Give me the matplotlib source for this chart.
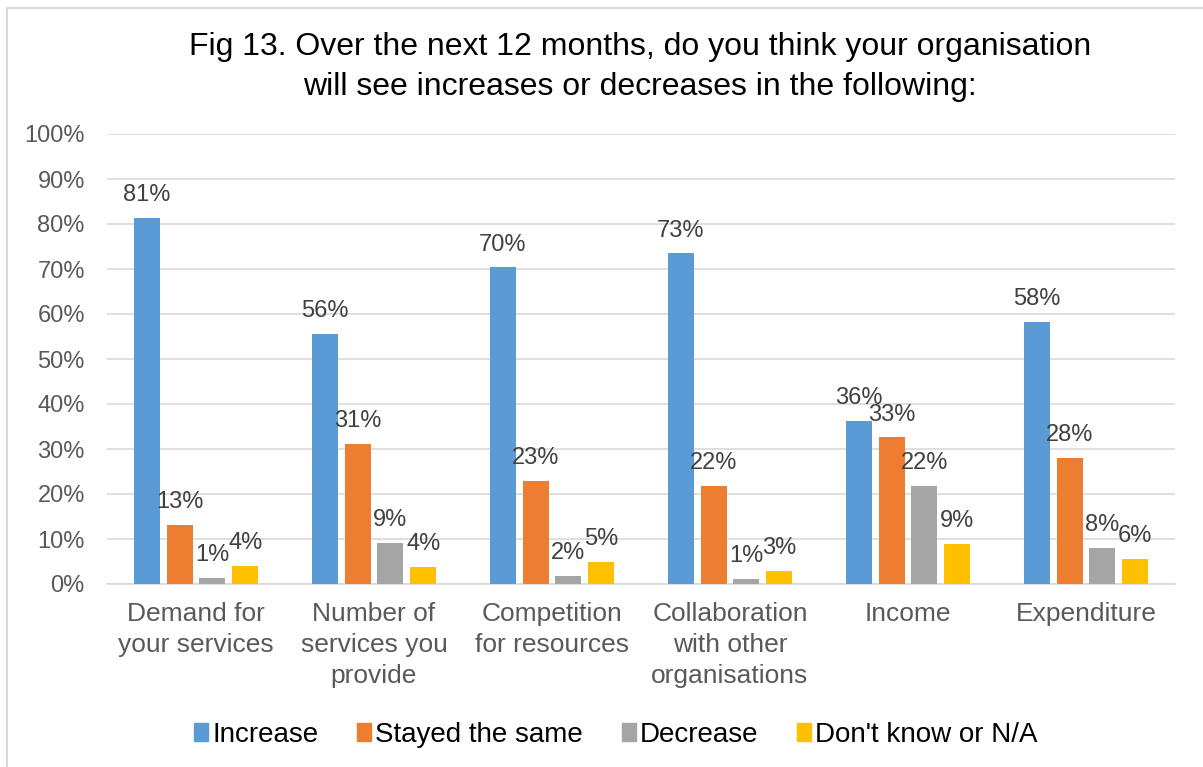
import matplotlib.pyplot as plt
import numpy as np
from matplotlib.patches import Rectangle, Patch

plt.rcParams['font.family'] = ['Liberation Sans', 'DejaVu Sans']

categories = ["Demand for\nyour services", "Number of\nservices you\nprovide",
              "Competition\nfor resources", "Collaboration\nwith other\norganisations",
              "Income", "Expenditure"]
series = ["Increase", "Stayed the same", "Decrease", "Don't know or N/A"]
increase = [81.3, 55.6, 70.4, 73.5, 36.3, 58.3]
stayed = [13.1, 31.2, 22.9, 21.8, 32.6, 28.1]
decrease = [1.3, 9.2, 1.8, 1.1, 21.8, 8.0]
dont_know = [4.1, 3.8, 4.9, 2.9, 8.9, 5.6]
labels = [
    ["81%", "56%", "70%", "73%", "36%", "58%"],
    ["13%", "31%", "23%", "22%", "33%", "28%"],
    ["1%", "9%", "2%", "1%", "22%", "8%"],
    ["4%", "4%", "5%", "3%", "9%", "6%"],
]
colors = ["#5B9BD5", "#ED7D31", "#A5A5A5", "#FFC000"]

fig = plt.figure(figsize=(12.03, 7.67), dpi=100)
ax = fig.add_axes([107 / 1203, 1 - 584 / 767, (1175 - 107) / 1203, (584 - 134) / 767])

# outer chart border
fig.patches.append(Rectangle((7 / 1203, -0.05), 1.1, 1 - 8 / 767 + 0.05,
                             transform=fig.transFigure, fill=False,
                             edgecolor="#D9D9D9", linewidth=1.5))

x = np.arange(len(categories))
step = 0.185
width = 0.146
for i, (vals, col) in enumerate(zip([increase, stayed, decrease, dont_know], colors)):
    pos = x + (i - 1.5) * step
    ax.bar(pos, vals, width=width, color=col, zorder=3)
    for p, v, lab in zip(pos, vals, labels[i]):
        ax.annotate(lab, (p, v), xytext=(0, 12), textcoords="offset points",
                    ha="center", va="baseline", fontsize=17, color="#404040", zorder=4)

ax.set_xlim(-0.5, len(categories) - 0.5)
ax.set_ylim(0, 100)
ax.set_yticks(np.arange(0, 101, 10))
ax.set_yticklabels([f"{v}%" for v in range(0, 101, 10)])
ax.set_xticks(x)
ax.set_xticklabels(categories, linespacing=1.36)
ax.tick_params(axis="both", length=0, labelcolor="#595959")
ax.tick_params(axis="y", pad=16, labelsize=17)
ax.tick_params(axis="x", pad=13, labelsize=19)
ax.grid(axis="y", color="#D9D9D9", linewidth=1.2, zorder=0)
for s in ["top", "right", "left"]:
    ax.spines[s].set_visible(False)
ax.spines["bottom"].set_color("#D9D9D9")
ax.spines["bottom"].set_linewidth(1.2)

fig.text(640 / 1203, 1 - 67 / 767,
         "Fig 13. Over the next 12 months, do you think your organisation\nwill see increases or decreases in the following:",
         ha="center", va="center", fontsize=23, color="#000000", linespacing=1.42)

handles = [Patch(facecolor=c, edgecolor=c) for c in colors]
fig.legend(handles, series, loc="center", bbox_to_anchor=(616 / 1203, 1 - 735 / 767),
           ncol=4, frameon=False, fontsize=20, handlelength=0.5, handleheight=0.6,
           handletextpad=0.15, columnspacing=1.4)

fig.savefig("out.png", dpi=100)
